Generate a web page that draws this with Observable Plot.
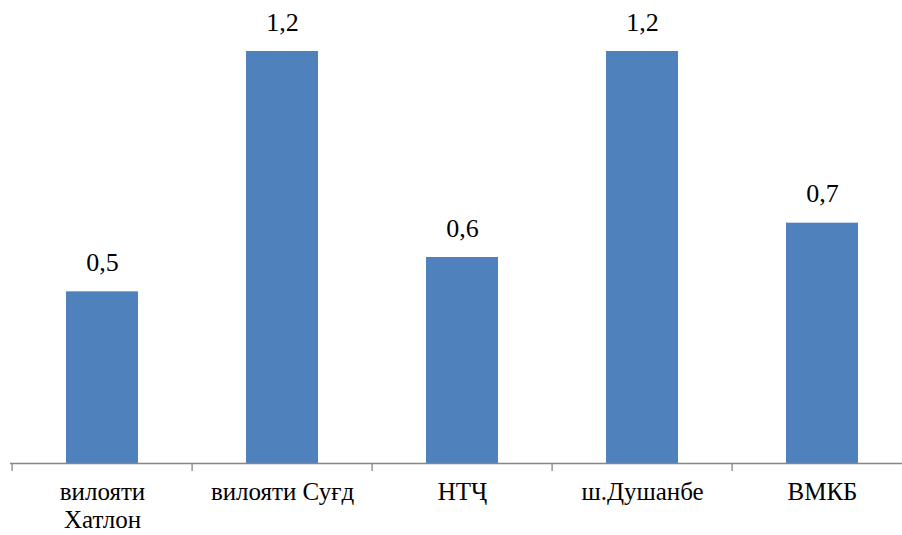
<!DOCTYPE html>
<html>
<head>
<meta charset="utf-8">
<script src="https://cdn.jsdelivr.net/npm/d3@7"></script>
<script src="https://cdn.jsdelivr.net/npm/@observablehq/plot@0.6"></script>
<style>
  html, body { margin: 0; padding: 0; background: #fff; }
  #chart svg { display: block; }
</style>
</head>
<body>
<div id="chart"></div>
<script>
const categories = ["вилояти\nХатлон", "вилояти Суғд", "НТҶ", "ш.Душанбе", "ВМКБ"];
const values = [0.5, 1.2, 0.6, 1.2, 0.7];
const valueLabels = ["0,5", "1,2", "0,6", "1,2", "0,7"];

const data = categories.map((c, i) => ({category: c, value: values[i], label: valueLabels[i]}));

const width = 902, height = 535;
const marginLeft = 10, marginRight = -12;
const step = (width - marginRight - marginLeft) / categories.length;
const font = "Liberation Serif, Times New Roman, serif";

const chart = Plot.plot({
  width, height,
  marginLeft, marginRight,
  marginTop: 51, marginBottom: 72,
  style: {background: "#fff", overflow: "hidden"},
  x: {domain: categories, paddingInner: 0.6, paddingOuter: 0.3, label: null},
  y: {domain: [0, 1.2], axis: null},
  marks: [
    Plot.barY(data, {x: "category", y: "value", fill: "#4F81BD"}),
    Plot.ruleY([0], {stroke: "#868686", strokeWidth: 1.3}),
    Plot.axisX({ticks: categories, tickSize: 8, text: null, dx: -step / 2, stroke: "#868686", strokeWidth: 1.3}),
    Plot.axisX({tickSize: 0, tickPadding: 17, fontSize: 25, fontFamily: font, fill: "#000", lineHeight: 1.1}),
    Plot.text(data, {x: "category", y: "value", text: "label", dy: -21, lineAnchor: "bottom", fontSize: 26, fontFamily: font, fill: "#000"})
  ]
});
document.getElementById("chart").appendChild(chart);
</script>
</body>
</html>
